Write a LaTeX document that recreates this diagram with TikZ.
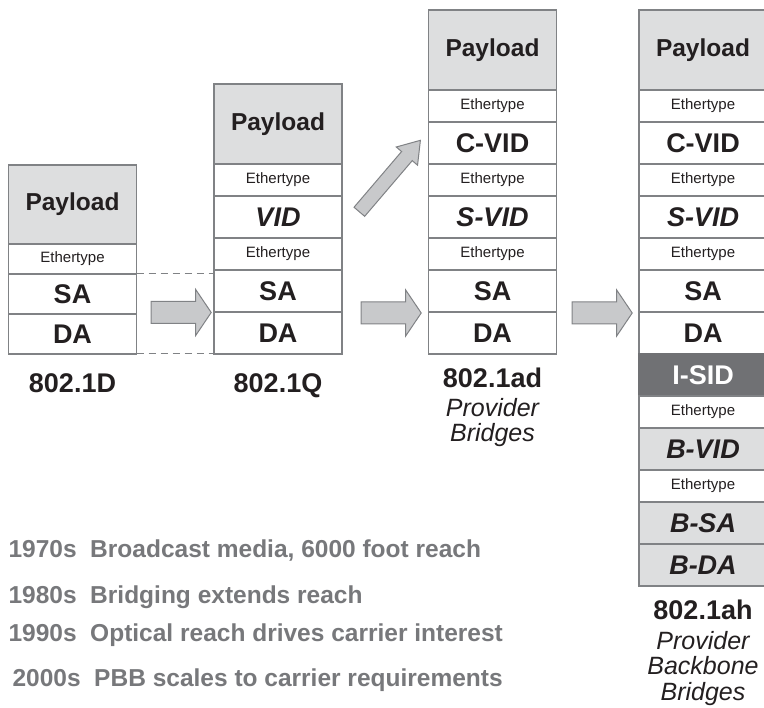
\documentclass[tikz,border=0pt]{standalone}
\usepackage{fontspec}
\setmainfont{Liberation Sans}
\usetikzlibrary{positioning,shapes.arrows}

\definecolor{borde}{HTML}{808285}
\definecolor{relleno}{HTML}{DDDEDF}
\definecolor{oscuro}{HTML}{707174}
\definecolor{flechagris}{HTML}{C8C9CB}
\definecolor{tinta}{HTML}{231F20}
\definecolor{gristexto}{HTML}{77787B}

\begin{document}
\begin{tikzpicture}[x=1pt, y=-1pt,
        campo/.style={rectangle, draw=borde, line width=1.3pt, outer sep=0pt, inner sep=0pt,
            minimum width=128pt, minimum height=42pt, text=tinta,
            font=\fontsize{27}{27}\selectfont\bfseries},
        etype/.style={campo, minimum height=32pt, font=\fontsize{15}{15}\selectfont},
        carga/.style={campo, minimum height=80pt, fill=relleno, font=\fontsize{24.5}{24.5}\selectfont\bfseries},
        campob/.style={campo, fill=relleno, font=\fontsize{27}{27}\selectfont\bfseries\itshape},
        isid/.style={campo, fill=oscuro, draw=oscuro, text=white},
        flecha/.style={single arrow, draw=borde, fill=flechagris, line width=1pt, outer sep=0pt,
            inner xsep=0pt, inner ysep=10.5pt, single arrow head extend=12pt,
            single arrow tip angle=112, minimum height=60pt},
        guion/.style={draw=borde, line width=1pt, dash pattern=on 7pt off 5pt},
        norma/.style={text=tinta, font=\fontsize{27}{27}\selectfont\bfseries},
        nombre/.style={text=tinta, font=\fontsize{25}{25}\selectfont\itshape},
        nota/.style={anchor=base west, text=gristexto, font=\fontsize{24.5}{24.5}\selectfont\bfseries}
    ]
        \useasboundingbox (0,0) rectangle (764,708);

        % 802.1D
        \node[campo, minimum height=40pt, anchor=south] (da1) at (72.5,354) {DA};
        \node[campo, minimum height=40pt, above=0pt of da1] (sa1) {SA};
        \node[etype, minimum height=30pt, above=0pt of sa1] (et1) {Ethertype};
        \node[carga, minimum height=79pt, above=0pt of et1] (pl1) {Payload};
        \node[norma, anchor=base] (n1) at (72.5,393) {802.1D};

        % 802.1Q
        \node[campo, anchor=south] (da2) at (278,354) {DA};
        \node[campo, above=0pt of da2] (sa2) {SA};
        \node[etype, above=0pt of sa2] (et2a) {Ethertype};
        \node[campo, above=0pt of et2a] (vid2) {\itshape VID};
        \node[etype, above=0pt of vid2] (et2b) {Ethertype};
        \node[carga, above=0pt of et2b] (pl2) {Payload};
        \node[norma, anchor=base] (n2) at (278,393) {802.1Q};

        % 802.1ad
        \node[campo, anchor=south] (da3) at (492.5,354) {DA};
        \node[campo, above=0pt of da3] (sa3) {SA};
        \node[etype, above=0pt of sa3] (et3a) {Ethertype};
        \node[campo, above=0pt of et3a] (svid3) {\itshape S-VID};
        \node[etype, above=0pt of svid3] (et3b) {Ethertype};
        \node[campo, above=0pt of et3b] (cvid3) {C-VID};
        \node[etype, above=0pt of cvid3] (et3c) {Ethertype};
        \node[carga, above=0pt of et3c] (pl3) {Payload};
        \node[norma, anchor=base] (n3) at (492.5,388) {802.1ad};
        \node[nombre, anchor=base] (p3) at (492.5,417) {Provider};
        \node[nombre, anchor=base] (b3) at (492.5,442) {Bridges};

        % 802.1ah
        \node[campo, anchor=south] (da4) at (703,354) {DA};
        \node[campo, above=0pt of da4] (sa4) {SA};
        \node[etype, above=0pt of sa4] (et4a) {Ethertype};
        \node[campo, above=0pt of et4a] (svid4) {\itshape S-VID};
        \node[etype, above=0pt of svid4] (et4b) {Ethertype};
        \node[campo, above=0pt of et4b] (cvid4) {C-VID};
        \node[etype, above=0pt of cvid4] (et4c) {Ethertype};
        \node[carga, above=0pt of et4c] (pl4) {Payload};
        \node[isid, below=0pt of da4] (isid4) {I-SID};
        \node[etype, below=0pt of isid4] (et4d) {Ethertype};
        \node[campob, below=0pt of et4d] (bvid4) {B-VID};
        \node[etype, below=0pt of bvid4] (et4e) {Ethertype};
        \node[campob, below=0pt of et4e] (bsa4) {B-SA};
        \node[campob, below=0pt of bsa4] (bda4) {B-DA};
        \node[norma, anchor=base] (n4) at (703,620) {802.1ah};
        \node[nombre, anchor=base] (p4) at (703,649) {Provider};
        \node[nombre, anchor=base] (k4) at (703,675) {Backbone};
        \node[nombre, anchor=base] (b4) at (703,701) {Bridges};

        % Flechas
        \draw[guion] (et1.south east) -- (et1.south east -| sa2.west);
        \draw[guion] (da1.south east) -- (da1.south east -| da2.west);
        \node[flecha] (f1) at (177.5,312.5) {};
        \node[flecha] (f2) at (387.5,313) {};
        \node[flecha] (f3) at (598.5,313) {};
        \node[flecha, inner ysep=6.5pt, single arrow head extend=7pt, single arrow tip angle=68,
            minimum height=94pt, rotate=49.5] (f4) at (386.5,180) {};

        % Historia
        \node[nota] (h1) at (5,558) {1970s\ \ Broadcast media, 6000 foot reach};
        \node[nota] (h2) at (5,604) {1980s\ \ Bridging extends reach};
        \node[nota] (h3) at (5,642) {1990s\ \ Optical reach drives carrier interest};
        \node[nota] (h4) at (9,687) {2000s\ \ PBB scales to carrier requirements};
    \end{tikzpicture}
\end{document}
